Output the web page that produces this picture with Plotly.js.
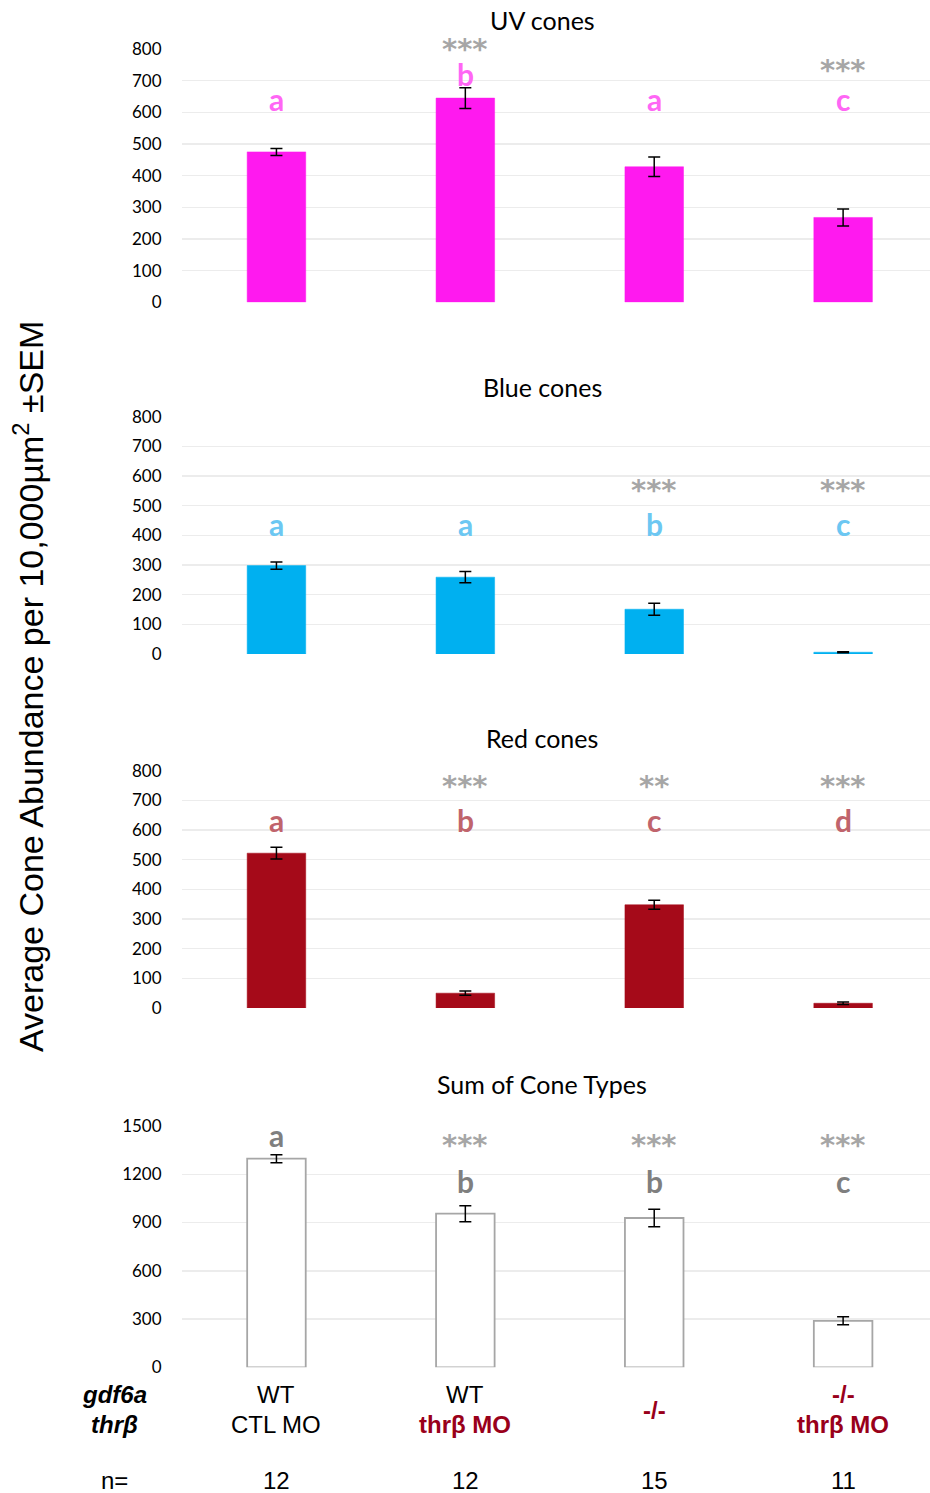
<!DOCTYPE html>
<html><head><meta charset="utf-8">
<script src="https://cdn.plot.ly/plotly-3.0.1.min.js"></script>
<style>html,body{margin:0;padding:0;background:#fff}#chart{width:930px;height:1493px}</style>
</head><body><div id="chart"></div>
<script>
// ---- data ----
const categories = ['WT|CTL MO', 'WT|thrβ MO', '-/-|', '-/-|thrβ MO'];
const gdf6aLabels = ['WT', 'WT', '-/-', '-/-'];
const thrbLabels = ['CTL MO', 'thrβ MO', '', 'thrβ MO'];
const nValues = [12, 12, 15, 11];

const uvMean = [475, 645, 428, 268];
const uvSem = [11, 33, 31, 27];
const uvLetters = ['a', 'b', 'a', 'c'];
const uvStars = ['', '***', '', '***'];

const blueMean = [298, 259, 151, 6];
const blueSem = [12, 19, 20, 2];
const blueLetters = ['a', 'a', 'b', 'c'];
const blueStars = ['', '', '***', '***'];

const redMean = [522, 50, 348, 16];
const redSem = [20, 7, 15, 4];
const redLetters = ['a', 'b', 'c', 'd'];
const redStars = ['', '***', '**', '***'];

const sumMean = [1297, 955, 928, 289];
const sumSem = [25, 50, 55, 25];
const sumLetters = ['a', 'b', 'b', 'c'];
const sumStars = ['', '***', '***', '***'];

// ---- layout config ----
const W = 930, H = 1493;
const fy = p => 1 - p / H;
const CAL = 'Lato, "Open Sans", sans-serif';
const STAR = '"DejaVu Sans", sans-serif';
const ARIAL = 'Arial, "Liberation Sans", Helvetica, sans-serif';

const panels = [
  {title: 'UV cones', titleY: 20, mean: uvMean, sem: uvSem, letters: uvLetters, stars: uvStars,
   fill: '#ff19ef', line: '#ff19ef', letterColor: '#ff66f5', range: [0, 800], dtick: 100,
   pix: [302.3, 49], letterY: [642, 720, 642, 642], starY: [0, 799, 0, 735]},
  {title: 'Blue cones', titleY: 387, mean: blueMean, sem: blueSem, letters: blueLetters, stars: blueStars,
   fill: '#00b0f0', line: '#00b0f0', letterColor: '#6cc7f2', range: [0, 800], dtick: 100,
   pix: [654, 416.7], letterY: [438, 438, 438, 438], starY: [0, 0, 552, 552]},
  {title: 'Red cones', titleY: 738, mean: redMean, sem: redSem, letters: redLetters, stars: redStars,
   fill: '#a50a19', line: '#a50a19', letterColor: '#c0646c', range: [0, 800], dtick: 100,
   pix: [1008, 770.7], letterY: [634, 634, 634, 634], starY: [0, 748, 748, 748]},
  {title: 'Sum of Cone Types', titleY: 1084, mean: sumMean, sem: sumSem, letters: sumLetters, stars: sumStars,
   fill: '#ffffff', line: '#a6a6a6', letterColor: '#7f7f7f', range: [0, 1500], dtick: 300,
   pix: [1367.3, 1126], letterY: [1446, 1156, 1156, 1156], starY: [0, 1380, 1380, 1380]}
];

const traces = [];
const layout = {
  width: W, height: H, margin: {l: 0, r: 0, t: 0, b: 0},
  paper_bgcolor: '#fff', plot_bgcolor: '#fff', showlegend: false,
  bargap: 0.69, annotations: []
};
const xDomain = [182 / W, 1];
const xRange = [-0.5, 3.46];

panels.forEach((p, i) => {
  const k = i === 0 ? '' : String(i + 1);
  traces.push({
    type: 'bar', x: categories, y: p.mean, xaxis: 'x' + k, yaxis: 'y' + k,
    marker: {color: p.fill, line: {color: p.line, width: i === 3 ? 1.8 : 0.5}},
    error_y: {type: 'data', array: p.sem, visible: true, color: '#000', thickness: 1.5, width: 6},
    hoverinfo: 'y'
  });
  layout['xaxis' + k] = {domain: xDomain, anchor: 'y' + k, type: 'category', categoryarray: categories,
    range: xRange, showticklabels: false, showgrid: false, zeroline: false, showline: false, ticks: '', fixedrange: true};
  layout['yaxis' + k] = {domain: [fy(p.pix[0]), fy(p.pix[1])], anchor: 'x' + k, range: p.range, dtick: p.dtick,
    showgrid: true, gridcolor: '#ececec', gridwidth: 1.5, zeroline: false, showline: false,
    ticks: 'outside', ticklen: 16, tickcolor: 'rgba(0,0,0,0)',
    tickfont: {family: CAL, size: 17, color: '#000'}, fixedrange: true};
  layout.annotations.push({text: p.title, xref: 'paper', yref: 'paper', x: 542 / W, y: fy(p.titleY),
    showarrow: false, xanchor: 'center', yanchor: 'middle', font: {family: CAL, size: 25, color: '#000'}});
  categories.forEach((c, j) => {
    layout.annotations.push({text: '<b>' + p.letters[j] + '</b>', xref: 'x' + k, yref: 'y' + k, x: c, y: p.letterY[j],
      showarrow: false, xanchor: 'center', yanchor: 'middle', font: {family: CAL, size: 30, color: p.letterColor}});
    if (p.stars[j]) {
      layout.annotations.push({text: '<b>' + p.stars[j] + '</b>', xref: 'x' + k, yref: 'y' + k, x: c, y: p.starY[j],
        showarrow: false, xanchor: 'center', yanchor: 'middle', font: {family: STAR, size: 29, color: '#a6a6a6'}});
    }
  });
});

// bottom group labels
const DARKRED = '#99001a';
const FS = 24;
const rowFont = {family: ARIAL, size: FS, color: '#000'};
layout.annotations.push({text: '<b><i>gdf6a</i></b>', xref: 'paper', yref: 'paper', x: 114 / W, y: fy(1394),
  showarrow: false, xanchor: 'center', yanchor: 'middle', font: rowFont});
layout.annotations.push({text: '<b><i>thrβ</i></b>', xref: 'paper', yref: 'paper', x: 114 / W, y: fy(1424),
  showarrow: false, xanchor: 'center', yanchor: 'middle', font: rowFont});
layout.annotations.push({text: 'n=', xref: 'paper', yref: 'paper', x: 114 / W, y: fy(1480),
  showarrow: false, xanchor: 'center', yanchor: 'middle', font: rowFont});
categories.forEach((c, j) => {
  const g = gdf6aLabels[j], t = thrbLabels[j];
  const gIsWT = g === 'WT';
  if (t) {
    layout.annotations.push({text: gIsWT ? g : '<b>' + g + '</b>', xref: 'x4', yref: 'paper', x: c, y: fy(1394),
      showarrow: false, xanchor: 'center', yanchor: 'middle', font: {family: ARIAL, size: FS, color: gIsWT ? '#000' : DARKRED}});
    const tRed = t !== 'CTL MO';
    layout.annotations.push({text: tRed ? '<b>' + t + '</b>' : t, xref: 'x4', yref: 'paper', x: c, y: fy(1424),
      showarrow: false, xanchor: 'center', yanchor: 'middle', font: {family: ARIAL, size: FS, color: tRed ? DARKRED : '#000'}});
  } else {
    layout.annotations.push({text: '<b>' + g + '</b>', xref: 'x4', yref: 'paper', x: c, y: fy(1410),
      showarrow: false, xanchor: 'center', yanchor: 'middle', font: {family: ARIAL, size: FS, color: DARKRED}});
  }
  layout.annotations.push({text: String(nValues[j]), xref: 'x4', yref: 'paper', x: c, y: fy(1480),
    showarrow: false, xanchor: 'center', yanchor: 'middle', font: rowFont});
});

// global y-axis title
layout.annotations.push({text: 'Average Cone Abundance per 10,000µm<sup>2</sup> ±SEM', xref: 'paper', yref: 'paper',
  x: 28 / W, y: fy(687), textangle: -90, showarrow: false, xanchor: 'center', yanchor: 'middle',
  font: {family: ARIAL, size: 34, color: '#000'}});

Plotly.newPlot('chart', traces, layout, {displayModeBar: false, staticPlot: true});
</script></body></html>
